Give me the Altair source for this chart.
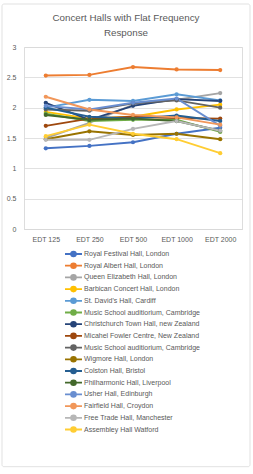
import altair as alt
import pandas as pd

categories = ["EDT 125", "EDT 250", "EDT 500", "EDT 1000", "EDT 2000"]

names = [
    "Royal Festival Hall, London",
    "Royal Albert Hall, London",
    "Queen Elizabeth Hall, London",
    "Barbican Concert Hall, London",
    "St. David's Hall, Cardiff",
    "Music School auditiorium, Cambridge",
    "Christchurch Town Hall, new Zealand",
    "Micahel Fowler Centre, New Zealand",
    "Music School auditiorium, Cambridge ",
    "Wigmore Hall, London",
    "Colston Hall, Bristol",
    "Philharmonic Hall, Liverpool",
    "Usher Hall, Edinburgh",
    "Fairfield Hall, Croydon",
    "Free Trade Hall, Manchester",
    "Assembley Hall Watford",
]

colors = [
    "#4472C4", "#ED7D31", "#A5A5A5", "#FFC000", "#5B9BD5", "#70AD47",
    "#264478", "#9E480E", "#636363", "#997300", "#255E91", "#43682B",
    "#698ED0", "#F1975A", "#B7B7B7", "#FFCD33",
]

royal_festival = [1.33, 1.37, 1.43, 1.57, 1.67]
royal_albert = [2.53, 2.54, 2.67, 2.63, 2.62]
queen_elizabeth = [1.50, 1.75, 2.05, 2.13, 2.24]
barbican = [1.93, 1.82, 1.85, 1.97, 2.05]
st_davids = [2.00, 2.13, 2.11, 2.22, 2.12]
music_school_1 = [1.90, 1.78, 1.80, 1.80, 1.60]
christchurch = [2.08, 1.80, 2.03, 2.14, 2.11]
fowler = [1.70, 1.82, 1.85, 1.83, 1.82]
music_school_2 = [1.97, 1.95, 2.07, 2.12, 2.00]
wigmore = [1.48, 1.61, 1.55, 1.57, 1.48]
colston = [2.00, 1.85, 1.82, 1.87, 1.78]
philharmonic = [1.88, 1.80, 1.82, 1.78, 1.62]
usher = [2.03, 1.97, 2.08, 2.15, 1.70]
fairfield = [2.18, 1.97, 1.88, 1.84, 1.72]
free_trade = [1.47, 1.47, 1.65, 1.78, 1.62]
watford = [1.53, 1.72, 1.57, 1.48, 1.25]

series = [royal_festival, royal_albert, queen_elizabeth, barbican, st_davids,
          music_school_1, christchurch, fowler, music_school_2, wigmore,
          colston, philharmonic, usher, fairfield, free_trade, watford]

rows = []
for i, (n, vals) in enumerate(zip(names, series)):
    for c, v in zip(categories, vals):
        rows.append({"hall": n, "order": i, "edt": c, "value": v})
df = pd.DataFrame(rows)

text_color = "#595959"
font = "Liberation Sans"

color = alt.Color(
    "hall:N",
    scale=alt.Scale(domain=names, range=colors),
    sort=names,
    legend=alt.Legend(
        title=None,
        orient="none",
        legendX=45.5,
        legendY=203,
        direction="vertical",
        symbolType="M-2.83,0L2.83,0M-0.8,0A0.8,0.8 0 1 1 0.8,0A0.8,0.8 0 1 1 -0.8,0Z",
        symbolSize=36,
        symbolStrokeWidth=1.8,
        labelFontSize=7,
        labelColor=text_color,
        labelFont=font,
        labelOffset=6.5,
        rowPadding=-0.3,
        labelLimit=300,
    ),
)

x = alt.X(
    "edt:N",
    sort=categories,
    scale=alt.Scale(domain=categories, type="point", padding=0.5),
    axis=alt.Axis(title=None, labelAngle=0, ticks=False, domain=True,
                  domainColor="#D9D9D9", labelFontSize=7, labelColor=text_color,
                  labelFont=font, labelPadding=6, grid=False),
)
y = alt.Y(
    "value:Q",
    scale=alt.Scale(domain=[0, 3], nice=False),
    axis=alt.Axis(title=None, values=[0, 0.5, 1, 1.5, 2, 2.5, 3], ticks=False,
                  domain=False, gridColor="#D9D9D9", gridWidth=0.8,
                  labelFontSize=7, labelColor=text_color, labelFont=font,
                  labelPadding=8, format="~g"),
)

base = alt.Chart(df)
lines = base.mark_line(strokeWidth=1.9).encode(x=x, y=y, color=color, order="order:Q")
points = base.mark_point(filled=True, size=18, opacity=1).encode(x=x, y=y, color=color)

border = alt.Chart(pd.DataFrame({"k": [0]})).mark_rect(
    fill=None, stroke="#D9D9D9", strokeWidth=0.8, cornerRadius=2
).encode(x=alt.value(-22), x2=alt.value(226), y=alt.value(-43), y2=alt.value(419.7))

chart = alt.layer(border, lines, points).properties(
    width=218,
    height=182,
    autosize=alt.AutoSizeParams(type="none"),
    padding={"left": 24, "top": 47, "right": 11, "bottom": 245},
    title=alt.Title(
        ["Concert Halls with Flat Frequency", "Response"],
        fontSize=9.8,
        font=font,
        fontWeight="normal",
        color=text_color,
        anchor="middle",
        dx=-7,
        offset=-34,
        lineHeight=15,
    ),
).configure_view(stroke=None).configure(background="white")

chart.save("out.html", embed_options={"renderer": "svg", "actions": False})
